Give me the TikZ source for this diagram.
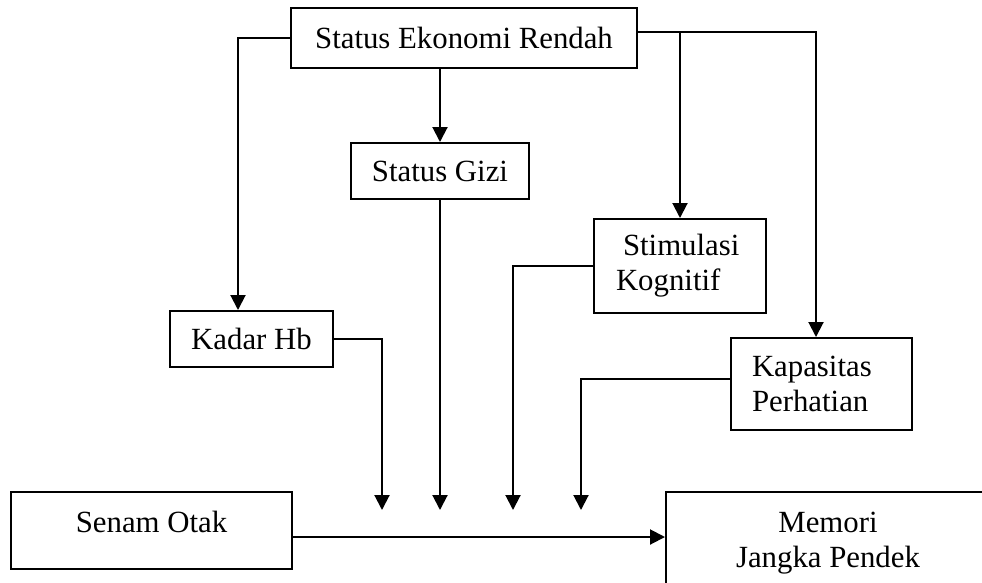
\documentclass[tikz,border=0pt]{standalone}
\usepackage{fontspec}
\setmainfont{Liberation Serif}
\usetikzlibrary{arrows.meta}
\begin{document}
\begin{tikzpicture}[x=1pt,y=-1pt,
  every node/.style={font=\fontsize{30.8}{35}\selectfont},
  box/.style={draw, line width=2pt, rectangle, inner sep=0pt},
  conn/.style={line width=2pt},
  arr/.style={line width=2pt, -{Triangle[length=15pt 0 0,width=15pt 0 0]}}]
\clip (0,0) rectangle (982,582);
% helper coordinates
\coordinate (tipY) at (0,510);
\coordinate (xKadar) at (238,0);
\coordinate (xA) at (382,0);
\coordinate (xB) at (513,0);
\coordinate (xC) at (581,0);
\coordinate (xKap) at (816,0);
% boxes
\node[box, minimum width=346pt, minimum height=60pt] (ser) at (464,38) {Status Ekonomi Rendah};
\node[box, minimum width=178pt, minimum height=56pt] (gizi) at (440,171) {Status Gizi};
\node[box, minimum width=163pt, minimum height=56pt] (kadar) at (251.5,339) {Kadar Hb};
\node[box, text width=128pt, inner xsep=22pt, align=left, minimum height=94pt] (stim) at (680,266) {\hspace*{7pt}Stimulasi\\Kognitif};
\node[box, text width=139pt, inner xsep=21pt, align=left, minimum height=92pt] (kap) at (821.5,384) {Kapasitas\\Perhatian};
\node[box, minimum width=281pt, minimum height=77pt, text height=21pt, text depth=18pt] (senam) at (151.5,530.5) {Senam Otak};
\node[box, minimum width=324pt, minimum height=103pt, align=center] (mem) at (828,543.5) {Memori\\Jangka Pendek};
% connectors
\draw[arr] (ser.west) -| (xKadar |- kadar.north);
\draw[arr] (gizi.north |- ser.south) -- (gizi.north);
\draw[arr] ([yshift=6pt]ser.east) -| (xKap |- kap.north);
\draw[arr] ([yshift=6pt]ser.east -| stim.north) -- (stim.north);
\draw[arr] (gizi.south) -- (gizi.south |- tipY);
\draw[arr] (kadar.east) -| (xA |- tipY);
\draw[arr] (stim.west) -| (xB |- tipY);
\draw[arr] ([yshift=5pt]kap.west) -| (xC |- tipY);
\draw[arr] ([yshift=-6.5pt]senam.east) -- ([yshift=-6.5pt]senam.east -| mem.west);
\end{tikzpicture}
\end{document}
